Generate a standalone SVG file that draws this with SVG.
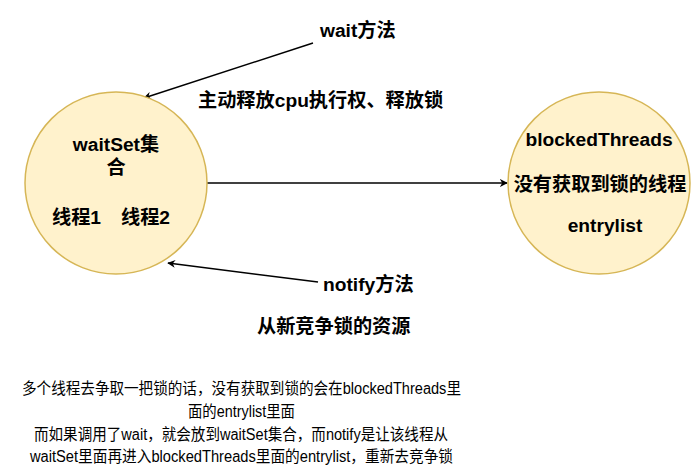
<svg xmlns="http://www.w3.org/2000/svg" width="698" height="467" viewBox="0 0 698 467">
<style>
.node{fill:#fff2cc;stroke:#d6b656;stroke-width:1.5}
.lbl{font-family:"Liberation Sans","Noto Sans CJK SC",sans-serif;font-weight:bold;font-size:19.2px;fill:#000}
.note{font-family:"Liberation Sans","Noto Sans CJK SC",sans-serif;font-size:16px;fill:#000}
.edge{fill:none;stroke:#000;stroke-width:1.5}
</style>
<defs>
<marker id="arr" viewBox="0 0 10 10" refX="9" refY="5" markerWidth="8" markerHeight="8" markerUnits="userSpaceOnUse" orient="auto">
<path d="M0,0 L10,5 L0,10 L3,5 z" fill="#000"/>
</marker>
</defs>
<rect width="698" height="467" fill="#fff"/>
<g id="connectors">
<path class="edge" d="M313,43 L144,98" marker-end="url(#arr)"/>
<path class="edge" d="M207,183 L507,183" marker-end="url(#arr)"/>
<path class="edge" d="M318,282 L168,263" marker-end="url(#arr)"/>
</g>
<g id="waitSet">
<circle class="node" cx="116" cy="183" r="91"/>
<text class="lbl" x="116" y="151" text-anchor="middle">waitSet集</text>
<text class="lbl" x="116" y="174" text-anchor="middle">合</text>
<text class="lbl" y="224"><tspan x="52">线程1</tspan><tspan x="121">线程2</tspan></text>
</g>
<g id="blockedThreads">
<circle class="node" cx="599" cy="183" r="91"/>
<text class="lbl" x="599" y="146" text-anchor="middle">blockedThreads</text>
<text class="lbl" x="600" y="191" text-anchor="middle">没有获取到锁的线程</text>
<text class="lbl" x="605" y="232" text-anchor="middle">entrylist</text>
</g>
<g id="labels">
<text class="lbl" x="320" y="37">wait方法</text>
<text class="lbl" x="198" y="107">主动释放cpu执行权、释放锁</text>
<text class="lbl" x="323" y="291">notify方法</text>
<text class="lbl" x="257" y="333">从新竞争锁的资源</text>
</g>
<g id="note">
<text class="note" x="22" y="394" textLength="439" lengthAdjust="spacingAndGlyphs">多个线程去争取一把锁的话，没有获取到锁的会在blockedThreads里</text>
<text class="note" x="188" y="417" textLength="107" lengthAdjust="spacingAndGlyphs">面的entrylist里面</text>
<text class="note" x="34" y="440" textLength="414" lengthAdjust="spacingAndGlyphs">而如果调用了wait，就会放到waitSet集合，而notify是让该线程从</text>
<text class="note" x="30" y="462" textLength="423" lengthAdjust="spacingAndGlyphs">waitSet里面再进入blockedThreads里面的entrylist，重新去竞争锁</text>
</g>
</svg>
